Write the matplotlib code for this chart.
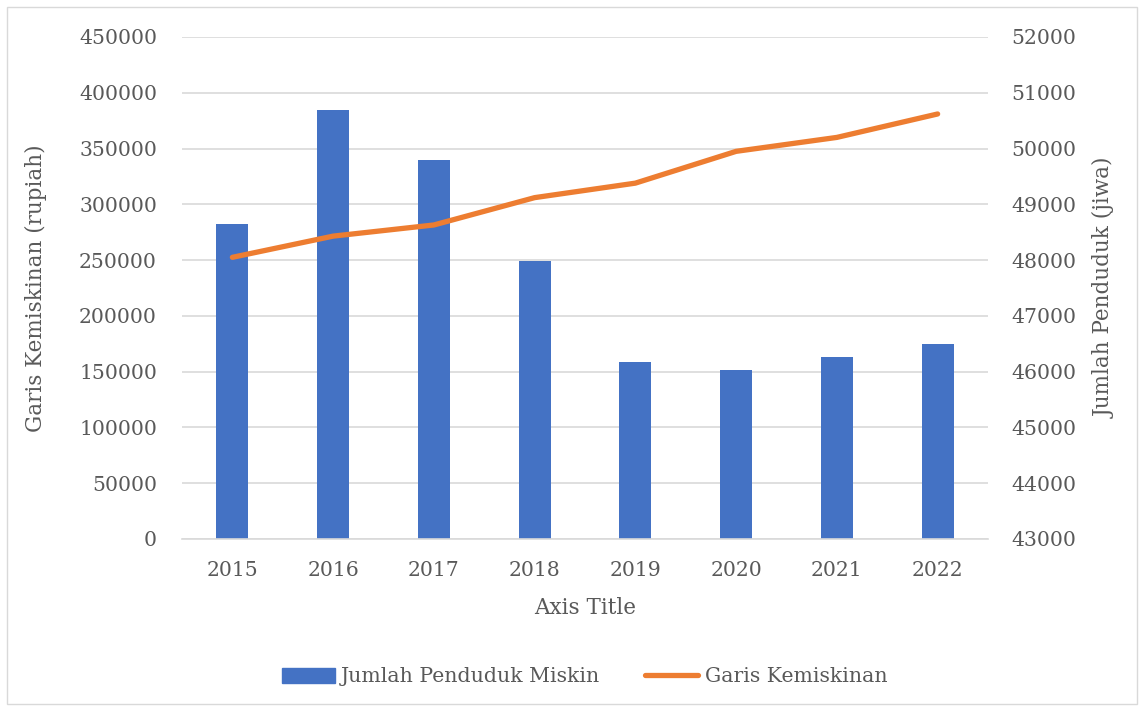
import matplotlib
matplotlib.use('Agg')
import matplotlib.pyplot as plt
from matplotlib.patches import Rectangle, Patch
from matplotlib.lines import Line2D
from matplotlib.ticker import MultipleLocator

years = ['2015', '2016', '2017', '2018', '2019', '2020', '2021', '2022']
penduduk_miskin = [282300, 384600, 339800, 249200, 158700, 151500, 163100, 174800]
garis_kemiskinan = [48050, 48430, 48630, 49120, 49380, 49950, 50200, 50620]

blue = '#4472C4'
orange = '#ED7D31'
txt = '#595959'
grid = '#D9D9D9'
fs = 14.7

plt.rcParams['font.family'] = ['DejaVu Serif']
plt.rcParams['font.size'] = fs

fig = plt.figure(figsize=(11.44, 7.11), dpi=100)
fig.patches.append(Rectangle((7 / 1144, 7 / 711), 1130 / 1144, 697 / 711,
                             transform=fig.transFigure, fill=False,
                             edgecolor=grid, linewidth=1))

ax = fig.add_axes([182 / 1144, 1 - 539 / 711, 806 / 1144, 502 / 711])
x = list(range(len(years)))
ax.bar(x, penduduk_miskin, width=0.32, color=blue, zorder=2)
ax.set_xlim(-0.5, len(years) - 0.5)
ax.set_ylim(0, 450000)
ax.yaxis.set_major_locator(MultipleLocator(50000))
ax.set_xticks(x)
ax.set_xticklabels(years)
ax.grid(axis='y', color=grid, linewidth=1.2, zorder=0)
ax.set_axisbelow(True)
for s in ['top', 'left', 'right']:
    ax.spines[s].set_visible(False)
ax.spines['bottom'].set_color(grid)
ax.spines['bottom'].set_linewidth(1.2)
ax.tick_params(axis='both', length=0, colors=txt, labelsize=fs)
ax.tick_params(axis='y', pad=18)
ax.tick_params(axis='x', pad=16)
ax.set_ylabel('Garis Kemiskinan (rupiah)', color=txt, fontsize=15.5, labelpad=23)
ax.set_xlabel('Axis Title', color=txt, fontsize=15.5, labelpad=12)

ax2 = ax.twinx()
ax2.plot(x, garis_kemiskinan, color=orange, linewidth=3.8, solid_capstyle='round')
ax2.set_ylim(43000, 52000)
ax2.yaxis.set_major_locator(MultipleLocator(1000))
for s in ['top', 'left', 'right', 'bottom']:
    ax2.spines[s].set_visible(False)
ax2.tick_params(axis='y', length=0, colors=txt, labelsize=fs, pad=17)
ax2.set_ylabel('Jumlah Penduduk (jiwa)', color=txt, fontsize=15.5, labelpad=12)

handles = [Patch(color=blue), Line2D([], [], color=orange, linewidth=3.8, solid_capstyle='round')]
labels = ['Jumlah Penduduk Miskin', 'Garis Kemiskinan']
fig.legend(handles, labels, loc='center', bbox_to_anchor=(0.511, 1 - 677 / 711),
           ncol=2, frameon=False, handlelength=2.6, handletextpad=0.3,
           columnspacing=2.2, labelcolor=txt, fontsize=fs)

fig.savefig('out.png', dpi=100)
